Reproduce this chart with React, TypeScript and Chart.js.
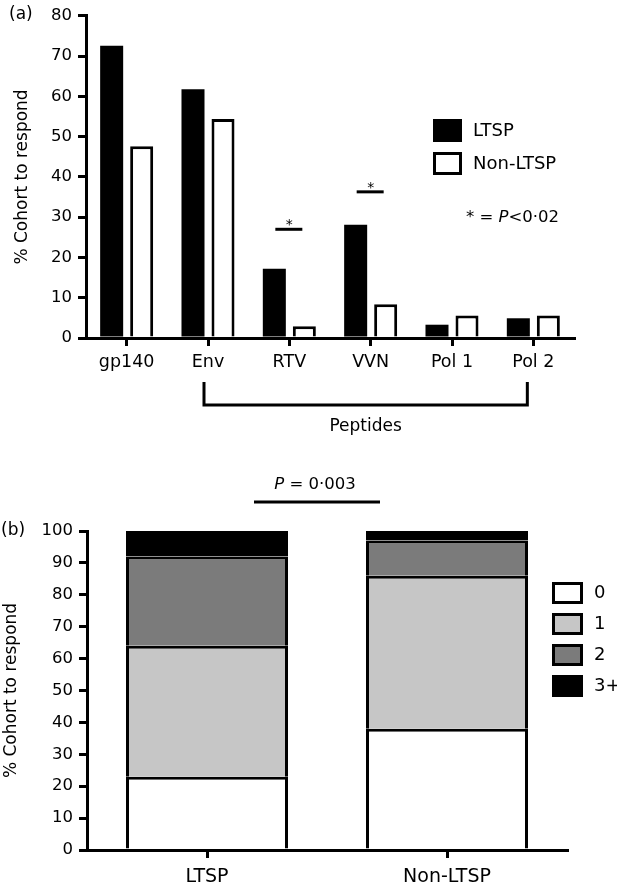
import React, { useEffect, useRef } from 'react';
import { Chart, registerables } from 'chart.js';

Chart.register(...registerables);

const FONT = 'DejaVu Sans';

// ---- Panel (a) data ----
const PEPTIDE_CATEGORIES = ['gp140', 'Env', 'RTV', 'VVN', 'Pol 1', 'Pol 2'];
const LTSP_RESPONSE = [72.6, 61.8, 17.2, 28.1, 3.3, 4.9];
const NON_LTSP_RESPONSE = [47.6, 54.4, 2.9, 8.4, 5.6, 5.6];
const SERIES_A_LABELS = ['LTSP', 'Non-LTSP'];
const SIGNIFICANT_CATEGORIES = ['RTV', 'VVN'];
const SIGNIFICANCE_LEVELS = [27, 36.3];
const AXIS_A_MAX = 80;
const AXIS_A_STEP = 10;

// ---- Panel (b) data ----
const COHORTS = ['LTSP', 'Non-LTSP'];
const RESPONSE_COUNTS = ['0', '1', '2', '3+'];
const COUNT_0 = [23, 38];
const COUNT_1 = [41, 48];
const COUNT_2 = [28, 11];
const COUNT_3PLUS = [8, 3];
const COUNT_COLORS = ['#ffffff', '#c6c6c6', '#7b7b7b', '#000000'];
const AXIS_B_MAX = 100;
const AXIS_B_STEP = 10;

const Y_TITLE = '% Cohort to respond';

function drawBox(ctx: CanvasRenderingContext2D, x: number, y: number, w: number, h: number, fill: string) {
  ctx.fillStyle = '#000';
  ctx.fillRect(x, y, w, h);
  ctx.fillStyle = fill;
  ctx.fillRect(x + 3, y + 3, w - 6, h - 6);
}

const annotA = {
  id: 'annotA',
  afterDraw(chart: any) {
    const { ctx, scales } = chart;
    const x = scales.x;
    const y = scales.y;
    ctx.save();
    ctx.fillStyle = '#000';
    ctx.strokeStyle = '#000';
    ctx.textBaseline = 'middle';
    ctx.textAlign = 'left';
    ctx.font = `17px "${FONT}"`;
    ctx.fillText('(a)', 9, 15);

    // significance bars
    SIGNIFICANT_CATEGORIES.forEach((cat, i) => {
      const cx = x.getPixelForValue(PEPTIDE_CATEGORIES.indexOf(cat));
      const py = y.getPixelForValue(SIGNIFICANCE_LEVELS[i]);
      ctx.lineWidth = 3;
      ctx.beginPath();
      ctx.moveTo(cx - 14, py);
      ctx.lineTo(cx + 13, py);
      ctx.stroke();
      ctx.font = `14px "${FONT}"`;
      ctx.textAlign = 'center';
      ctx.textBaseline = 'alphabetic';
      ctx.fillText('*', cx, py);
    });

    // legend
    const fills = ['#000000', '#ffffff'];
    const tops = [119, 152];
    chart.data.datasets.forEach((ds: any, i: number) => {
      drawBox(ctx, 433, tops[i], 29, 23, fills[i]);
      ctx.fillStyle = '#000';
      ctx.font = `18px "${FONT}"`;
      ctx.textAlign = 'left';
      ctx.textBaseline = 'middle';
      ctx.fillText(ds.label, 473, tops[i] + 12);
    });

    // "* = P<0·02"
    ctx.font = `16.5px "${FONT}"`;
    ctx.textAlign = 'left';
    ctx.textBaseline = 'middle';
    let tx = 466;
    const ty = 218;
    const p1 = '* = ';
    ctx.fillText(p1, tx, ty);
    tx += ctx.measureText(p1).width;
    ctx.font = `italic 16.5px "${FONT}"`;
    ctx.fillText('P', tx, ty);
    tx += ctx.measureText('P').width;
    ctx.font = `16.5px "${FONT}"`;
    ctx.fillText('<0·02', tx, ty);

    // Peptides bracket
    const l = x.getPixelForValue(1) - 4;
    const r = x.getPixelForValue(5) - 6;
    ctx.lineWidth = 3;
    ctx.lineJoin = 'miter';
    ctx.beginPath();
    ctx.moveTo(l, 382);
    ctx.lineTo(l, 405);
    ctx.lineTo(r, 405);
    ctx.lineTo(r, 382);
    ctx.stroke();
    ctx.font = `17px "${FONT}"`;
    ctx.textAlign = 'center';
    ctx.fillText('Peptides', (l + r) / 2, 427);
    ctx.restore();
  },
};

const annotB = {
  id: 'annotB',
  afterDraw(chart: any) {
    const { ctx } = chart;
    ctx.save();
    ctx.fillStyle = '#000';
    ctx.strokeStyle = '#000';
    ctx.textBaseline = 'middle';
    ctx.textAlign = 'left';
    ctx.font = `17px "${FONT}"`;
    ctx.fillText('(b)', 1, 91);

    // P = 0·003
    ctx.font = `italic 16.5px "${FONT}"`;
    const wP = ctx.measureText('P').width;
    ctx.font = `16.5px "${FONT}"`;
    const rest = ' = 0·003';
    const wR = ctx.measureText(rest).width;
    const cx = 315;
    let tx = cx - (wP + wR) / 2;
    ctx.font = `italic 16.5px "${FONT}"`;
    ctx.fillText('P', tx, 45);
    tx += wP;
    ctx.font = `16.5px "${FONT}"`;
    ctx.fillText(rest, tx, 45);
    ctx.lineWidth = 3;
    ctx.beginPath();
    ctx.moveTo(254, 62);
    ctx.lineTo(380, 62);
    ctx.stroke();

    // legend
    chart.data.datasets.forEach((ds: any, i: number) => {
      const top = 142 + i * 31;
      drawBox(ctx, 552, top, 31, 22, ds.backgroundColor);
      ctx.fillStyle = '#000';
      ctx.font = `18px "${FONT}"`;
      ctx.textAlign = 'left';
      ctx.textBaseline = 'middle';
      ctx.fillText(ds.label, 594, top + 11);
    });
    ctx.restore();
  },
};

function yAxis(max: number, step: number, width: number, titlePad: number) {
  return {
    min: 0,
    max,
    ticks: { stepSize: step, color: '#000', font: { family: FONT, size: 16.5 }, padding: 6 },
    grid: { drawOnChartArea: false, drawTicks: true, tickLength: 8, color: '#000', lineWidth: 3 },
    border: { display: true, color: '#000', width: 3 },
    title: {
      display: true,
      text: Y_TITLE,
      color: '#000',
      font: { family: FONT, size: 17 },
      padding: { top: titlePad, bottom: 0 },
    },
    afterFit: (s: any) => {
      s.width = width;
    },
  };
}

function xAxis(height: number, fontSize: number, pad: number, stacked: boolean) {
  return {
    z: 1,
    stacked,
    ticks: { color: '#000', font: { family: FONT, size: fontSize }, padding: pad, maxRotation: 0, autoSkip: false },
    grid: { drawOnChartArea: false, offset: false, drawTicks: true, tickLength: 8, color: '#000', lineWidth: 3 },
    border: { display: true, color: '#000', width: 3 },
    afterFit: (s: any) => {
      s.height = height;
    },
  };
}

export default function App() {
  const refA = useRef<HTMLCanvasElement>(null);
  const refB = useRef<HTMLCanvasElement>(null);

  useEffect(() => {
    const chartA = new Chart(refA.current as HTMLCanvasElement, {
      type: 'bar',
      data: {
        labels: PEPTIDE_CATEGORIES,
        datasets: [
          {
            label: SERIES_A_LABELS[0],
            data: LTSP_RESPONSE,
            backgroundColor: '#000000',
            borderWidth: 0,
          },
          {
            label: SERIES_A_LABELS[1],
            data: NON_LTSP_RESPONSE,
            backgroundColor: '#ffffff',
            borderColor: '#000000',
            borderWidth: 3,
          },
        ],
      },
      options: {
        responsive: false,
        animation: false,
        devicePixelRatio: 1,
        datasets: { bar: { barPercentage: 0.767, categoryPercentage: 0.738 } },
        layout: { padding: { left: 0, right: 43, top: 13, bottom: 0 } },
        plugins: { legend: { display: false }, tooltip: { enabled: false } },
        scales: {
          x: xAxis(102, 17.5, 6, false),
          y: yAxis(AXIS_A_MAX, AXIS_A_STEP, 86, 12),
        },
      } as any,
      plugins: [annotA],
    });

    const series = [COUNT_0, COUNT_1, COUNT_2, COUNT_3PLUS];
    const chartB = new Chart(refB.current as HTMLCanvasElement, {
      type: 'bar',
      data: {
        labels: COHORTS,
        datasets: RESPONSE_COUNTS.map((lab, i) => ({
          label: lab,
          data: series[i],
          backgroundColor: COUNT_COLORS[i],
          borderColor: '#000000',
          borderWidth: 3,
          borderSkipped: 'start',
        })),
      },
      options: {
        responsive: false,
        animation: false,
        devicePixelRatio: 1,
        datasets: { bar: { barPercentage: 0.675, categoryPercentage: 1 } },
        layout: { padding: { left: 0, right: 50, top: 91, bottom: 0 } },
        plugins: { legend: { display: false }, tooltip: { enabled: false } },
        scales: {
          x: xAxis(39, 19, 8, true),
          y: { ...yAxis(AXIS_B_MAX, AXIS_B_STEP, 87, 1), stacked: true },
        },
      } as any,
      plugins: [annotB],
    });

    return () => {
      chartA.destroy();
      chartB.destroy();
    };
  }, []);

  return (
    <div style={{ position: 'absolute', left: 0, top: 0, width: 617, height: 889, background: '#fff' }}>
      <canvas ref={refA} width={617} height={440} style={{ position: 'absolute', left: 0, top: 0 }} />
      <canvas ref={refB} width={617} height={449} style={{ position: 'absolute', left: 0, top: 440 }} />
    </div>
  );
}
